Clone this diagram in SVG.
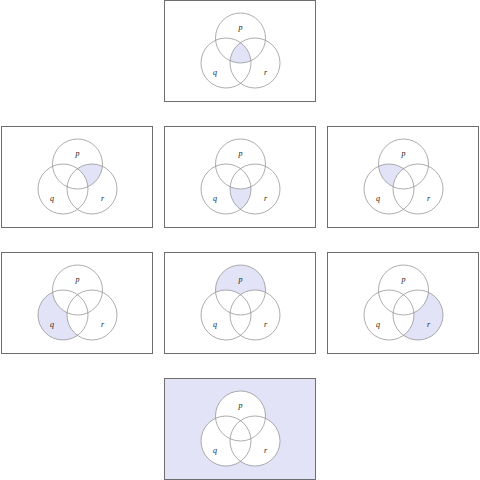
<svg xmlns="http://www.w3.org/2000/svg" xmlns:xlink="http://www.w3.org/1999/xlink" width="480" height="480" viewBox="0 0 480 480">
<style>
.frame{fill:#ffffff;stroke:#6e6e6e;stroke-width:1}
.frameS{fill:#e3e3f8;stroke:#6e6e6e;stroke-width:1}
.ring{fill:none;stroke:#8a8a8a;stroke-width:0.7}
.sh{fill:#e3e3f8}
.wh{fill:#ffffff}
.lbl{font-family:"Liberation Serif","DejaVu Serif",serif;font-style:italic;font-size:8px;fill:#222;text-anchor:middle}
</style>
<defs>
<circle id="P" cx="76" cy="37.5" r="25"/>
<circle id="Q" cx="61.5" cy="62.5" r="25"/>
<circle id="R" cx="90.5" cy="62.5" r="25"/>
<clipPath id="cp"><use xlink:href="#P"/></clipPath>
<clipPath id="cq"><use xlink:href="#Q"/></clipPath>
<clipPath id="cr"><use xlink:href="#R"/></clipPath>
<g id="rings">
<use xlink:href="#P" class="ring"/>
<use xlink:href="#Q" class="ring"/>
<use xlink:href="#R" class="ring"/>
<text class="lbl" x="76" y="29">p</text>
<text class="lbl" x="50.5" y="74">q</text>
<text class="lbl" x="101" y="74">r</text>
</g>
</defs>

<g id="panel-pqr" transform="translate(164.5,0.5)">
<rect class="frame" x="0" y="0" width="151" height="101"/>
<g clip-path="url(#cq)"><use xlink:href="#P" class="sh" clip-path="url(#cr)"/></g>
<use xlink:href="#rings"/>
</g>

<g id="panel-pr" transform="translate(1.5,126.5)">
<rect class="frame" x="0" y="0" width="151" height="101"/>
<use xlink:href="#P" class="sh" clip-path="url(#cr)"/>
<use xlink:href="#Q" class="wh"/>
<use xlink:href="#rings"/>
</g>

<g id="panel-qr" transform="translate(164.5,126.5)">
<rect class="frame" x="0" y="0" width="151" height="101"/>
<use xlink:href="#Q" class="sh" clip-path="url(#cr)"/>
<use xlink:href="#P" class="wh"/>
<use xlink:href="#rings"/>
</g>

<g id="panel-pq" transform="translate(327.5,126.5)">
<rect class="frame" x="0" y="0" width="151" height="101"/>
<use xlink:href="#P" class="sh" clip-path="url(#cq)"/>
<use xlink:href="#R" class="wh"/>
<use xlink:href="#rings"/>
</g>

<g id="panel-q" transform="translate(1.5,252.5)">
<rect class="frame" x="0" y="0" width="151" height="101"/>
<use xlink:href="#Q" class="sh"/>
<use xlink:href="#P" class="wh"/>
<use xlink:href="#R" class="wh"/>
<use xlink:href="#rings"/>
</g>

<g id="panel-p" transform="translate(164.5,252.5)">
<rect class="frame" x="0" y="0" width="151" height="101"/>
<use xlink:href="#P" class="sh"/>
<use xlink:href="#Q" class="wh"/>
<use xlink:href="#R" class="wh"/>
<use xlink:href="#rings"/>
</g>

<g id="panel-r" transform="translate(327.5,252.5)">
<rect class="frame" x="0" y="0" width="151" height="101"/>
<use xlink:href="#R" class="sh"/>
<use xlink:href="#P" class="wh"/>
<use xlink:href="#Q" class="wh"/>
<use xlink:href="#rings"/>
</g>

<g id="panel-none" transform="translate(164.5,378.5)">
<rect class="frameS" x="0" y="0" width="151" height="101"/>
<use xlink:href="#P" class="wh"/>
<use xlink:href="#Q" class="wh"/>
<use xlink:href="#R" class="wh"/>
<use xlink:href="#rings"/>
</g>
<g id="connectors"/>
</svg>
